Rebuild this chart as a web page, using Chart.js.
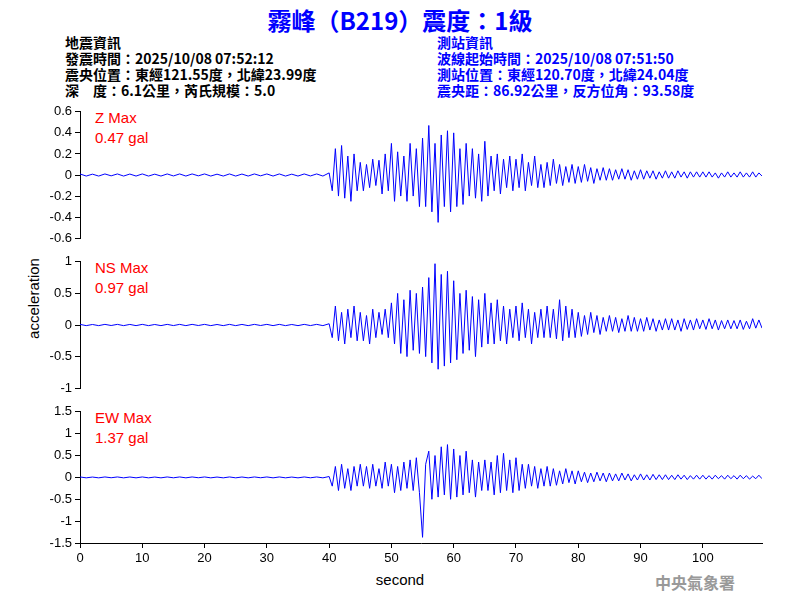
<!DOCTYPE html>
<html><head><meta charset="utf-8">
<script src="https://cdn.jsdelivr.net/npm/chart.js@4/dist/chart.umd.min.js"></script>
<style>
body{margin:0;width:800px;height:600px;background:#fff;position:relative;overflow:hidden;font-family:Arial,"Liberation Sans",sans-serif}
.t{position:absolute;white-space:pre;font-family:"Noto Sans CJK TC","Liberation Sans",sans-serif}
canvas{position:absolute;left:0}
</style></head><body>
<div class="t" style="left:0;width:800px;text-align:center;top:2px;font-size:24px;font-weight:bold;color:#0000ff">霧峰（B219）震度：1級</div>
<div class="t" style="left:65px;top:34px;font-size:14px;line-height:16px;color:#000;font-weight:bold">地震資訊
發震時間：2025/10/08 07:52:12
震央位置：東經121.55度，北緯23.99度
深　度：6.1公里，芮氏規模：5.0</div>
<div class="t" style="left:437px;top:34px;font-size:14px;line-height:16px;color:#0000ff;font-weight:bold">測站資訊
波線起始時間：2025/10/08 07:51:50
測站位置：東經120.70度，北緯24.04度
震央距：86.92公里，反方位角：93.58度</div>
<div class="t" style="left:95px;top:108px;font-size:15px;line-height:20px;color:#ff0000;font-family:Arial,'Liberation Sans'">Z Max
0.47 gal</div>
<div class="t" style="left:95px;top:258px;font-size:15px;line-height:20px;color:#ff0000;font-family:Arial,'Liberation Sans'">NS Max
0.97 gal</div>
<div class="t" style="left:95px;top:408px;font-size:15px;line-height:20px;color:#ff0000;font-family:Arial,'Liberation Sans'">EW Max
1.37 gal</div>
<div class="t" style="left:-17px;top:290px;width:100px;text-align:center;font-size:15px;transform:rotate(-90deg);font-family:Arial,'Liberation Sans'">acceleration</div>
<div class="t" style="left:350px;top:571px;width:100px;text-align:center;font-size:15px;font-family:Arial,'Liberation Sans'">second</div>
<div class="t" style="left:655px;top:570px;font-size:16px;color:#999;font-weight:bold;font-family:'Noto Sans CJK TC'">中央氣象署</div>
<canvas id="cz" style="top:101px" width="800" height="148"></canvas>
<canvas id="cn" style="top:251px" width="800" height="148"></canvas>
<canvas id="ce" style="top:401px" width="800" height="192"></canvas>
<script>
const quiet=[0.01,-0.01,0.008,-0.01,0.01,-0.008,0.01,-0.01,0.009,-0.01,0.01,-0.01,0.008,-0.01,0.01,-0.009,0.01,-0.01,0.01,-0.008,0.01,-0.01,0.008,-0.01,0.01,-0.01,0.009,-0.01,0.01,-0.008,0.01,-0.01,0.01,-0.01,0.008,-0.01,0.01,-0.009,0.01,-0.01];
const zVals=[0.02,-0.15,0.25,-0.2,0.28,-0.22,0.18,-0.25,0.2,-0.15,
0.12,-0.15,0.1,-0.12,0.15,-0.1,0.14,-0.18,0.2,-0.15,
0.3,-0.25,0.22,-0.2,0.18,-0.25,0.3,-0.2,0.25,-0.3,
0.35,-0.3,0.47,-0.35,0.3,-0.45,0.38,-0.3,0.42,-0.35,
0.4,-0.3,0.25,-0.28,0.3,-0.2,0.25,-0.22,0.2,-0.25,
0.32,-0.2,0.18,-0.15,0.2,-0.18,0.15,-0.12,0.18,-0.15,
0.15,-0.12,0.2,-0.15,0.12,-0.1,0.18,-0.12,0.1,-0.12,
0.12,-0.1,0.15,-0.08,0.1,-0.1,0.08,-0.07,0.1,-0.08,
0.08,-0.07,0.1,-0.06,0.07,-0.08,0.06,-0.05,0.07,-0.05,
0.06,-0.05,0.05,-0.04,0.06,-0.04,0.05,-0.05,0.04,-0.04,
0.05,-0.04,0.04,-0.03,0.04,-0.04,0.03,-0.03,0.04,-0.03,
0.03,-0.03,0.04,-0.02,0.03,-0.03,0.03,-0.02,0.03,-0.02,
0.03,-0.02,0.03,-0.02,0.02,-0.03,0.02,-0.02,0.03,-0.02,
0.02,-0.02,0.03,-0.02,0.02,-0.02,0.03,-0.02,0.02,-0.01];
const nsVals=[0.02,-0.2,0.3,-0.25,0.2,-0.3,0.25,-0.2,0.3,-0.25,
0.2,-0.25,0.15,-0.3,0.25,-0.2,0.2,-0.15,0.25,-0.2,
0.35,-0.3,0.5,-0.45,0.4,-0.5,0.55,-0.4,0.5,-0.45,
0.6,-0.5,0.75,-0.6,0.97,-0.7,0.8,-0.65,0.85,-0.6,
0.7,-0.55,0.5,-0.45,0.55,-0.4,0.45,-0.5,0.4,-0.35,
0.5,-0.3,0.35,-0.3,0.4,-0.25,0.3,-0.3,0.25,-0.2,
0.3,-0.25,0.35,-0.2,0.25,-0.3,0.2,-0.2,0.25,-0.2,
0.3,-0.2,0.25,-0.22,0.4,-0.25,0.3,-0.2,0.25,-0.2,
0.2,-0.18,0.15,-0.15,0.2,-0.12,0.15,-0.15,0.12,-0.1,
0.15,-0.1,0.12,-0.12,0.1,-0.1,0.15,-0.1,0.12,-0.1,
0.1,-0.1,0.12,-0.08,0.1,-0.1,0.08,-0.08,0.1,-0.08,
0.1,-0.08,0.08,-0.1,0.1,-0.07,0.08,-0.08,0.1,-0.06,
0.08,-0.07,0.1,-0.06,0.08,-0.08,0.07,-0.06,0.08,-0.06,
0.07,-0.06,0.08,-0.07,0.06,-0.06,0.1,-0.05,0.08,-0.05];
const ewVals=[0.02,-0.2,0.25,-0.3,0.3,-0.25,0.2,-0.3,0.25,-0.2,
0.3,-0.2,0.25,-0.25,0.3,-0.2,0.2,-0.25,0.35,-0.2,
0.3,-0.35,0.25,-0.3,0.35,-0.25,0.4,-0.3,0.45,-0.35,
-1.37,0.3,0.6,-0.5,0.5,-0.45,0.7,-0.4,0.75,-0.5,
0.65,-0.45,0.5,-0.4,0.6,-0.35,0.4,-0.45,0.35,-0.3,
0.4,-0.3,0.35,-0.4,0.5,-0.35,0.55,-0.3,0.4,-0.35,
0.45,-0.3,0.3,-0.25,0.3,-0.2,0.25,-0.25,0.2,-0.2,
0.25,-0.2,0.2,-0.18,0.15,-0.15,0.2,-0.12,0.15,-0.15,
0.15,-0.1,0.12,-0.12,0.1,-0.1,0.12,-0.08,0.1,-0.1,
0.1,-0.08,0.08,-0.08,0.1,-0.06,0.08,-0.08,0.06,-0.06,
0.08,-0.06,0.06,-0.06,0.07,-0.05,0.06,-0.05,0.06,-0.05,
0.05,-0.05,0.06,-0.04,0.05,-0.05,0.04,-0.04,0.05,-0.04,
0.05,-0.04,0.04,-0.04,0.05,-0.03,0.04,-0.04,0.05,-0.03,
0.04,-0.04,0.05,-0.03,0.04,-0.04,0.03,-0.03,0.05,-0.03];
const xTicks=[0,10,20,30,40,50,60,70,80,90,100];
function pts(vals){
  const p=quiet.map((v,i)=>({x:i,y:v}));
  vals.forEach((v,i)=>p.push({x:40+i*0.5,y:v}));
  return p;
}
function make(id,vals,lim,step,showX){
  new Chart(document.getElementById(id),{type:'line',
    data:{datasets:[{data:pts(vals),borderColor:'#0000ff',borderWidth:1,pointRadius:0,tension:0}]},
    options:{responsive:false,animation:false,plugins:{legend:{display:false},tooltip:{enabled:false}},
      layout:{padding:{top:6,bottom:showX?0:6,right:38,left:0}},
      scales:{
        x:{type:'linear',min:0,max:109.5,display:showX,
          afterBuildTicks:a=>{a.ticks=xTicks.map(v=>({value:v}));},
          afterFit:a=>{if(showX)a.height=50;},
          border:{color:'#000'},grid:{drawOnChartArea:false,tickLength:5,color:'#000'},
          ticks:{color:'#000',font:{size:13,family:'Arial'},maxRotation:0}},
        y:{min:-lim,max:lim,afterFit:a=>{a.width=80;},
          border:{color:'#000'},grid:{drawOnChartArea:false,tickLength:5,color:'#000'},
          ticks:{stepSize:step,autoSkip:false,color:'#000',font:{size:13,family:'Arial'},
            callback:v=>String(Math.round(v*10)/10)}}
      }}});
}
make('cz',zVals,0.6,0.2,false);
make('cn',nsVals,1,0.5,false);
make('ce',ewVals,1.5,0.5,true);
</script></body></html>
